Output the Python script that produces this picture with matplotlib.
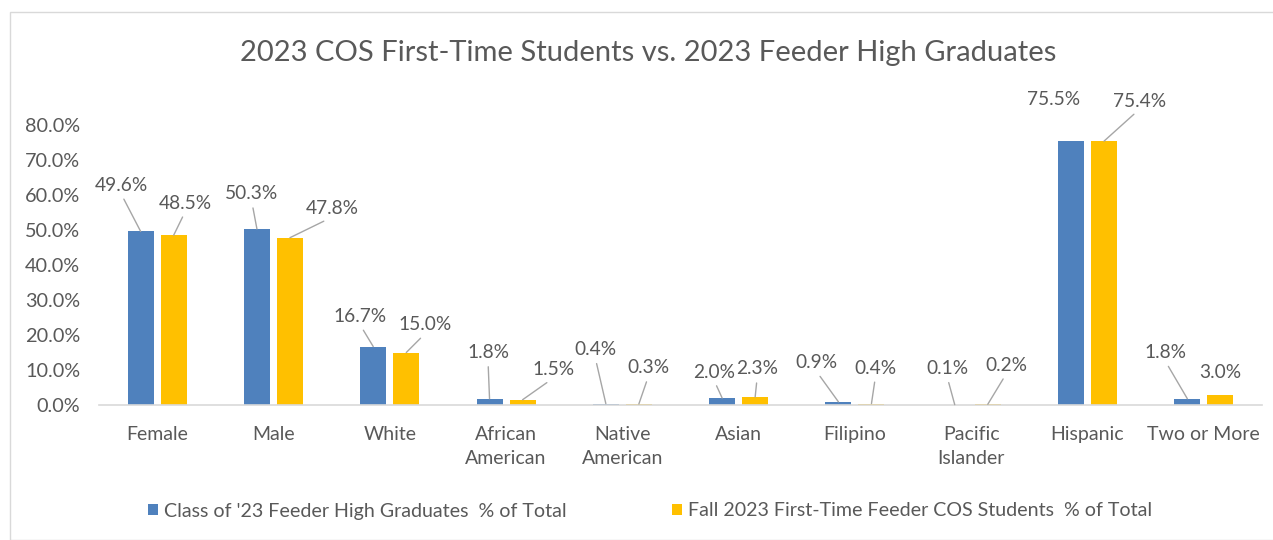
import matplotlib
matplotlib.use("Agg")
import matplotlib.pyplot as plt
from matplotlib.patches import Rectangle
import numpy as np

categories = ["Female", "Male", "White", "African\nAmerican", "Native\nAmerican",
              "Asian", "Filipino", "Pacific\nIslander", "Hispanic", "Two or More"]
grads = [49.6, 50.3, 16.7, 1.8, 0.4, 2.0, 0.9, 0.1, 75.5, 1.8]
cos_students = [48.5, 47.8, 15.0, 1.5, 0.3, 2.3, 0.4, 0.2, 75.4, 3.0]
series_names = ["Class of '23 Feeder High Graduates  % of Total",
                "Fall 2023 First-Time Feeder COS Students  % of Total"]
title = "2023 COS First-Time Students vs. 2023 Feeder High Graduates"
yticks = [0, 10, 20, 30, 40, 50, 60, 70, 80]

# label offsets (pixels) from bar top, and whether a leader line is drawn
off_grads = [(-19.5, 46), (-5, 35), (-13, 30), (-1.5, 46), (-10.5, 54),
             (-8, 26), (-22, 39), (-7.5, 36), (-17, 41), (-22, 46)]
lead_grads = [True, True, True, True, True, True, True, True, False, True]
off_cos = [(11.5, 32), (42, 29), (19, 27.5), (30.5, 30), (9.5, 36),
           (2, 28), (4, 35.5), (18.5, 39), (35, 40), (0, 21.5)]
lead_cos = [True, True, True, True, True, True, True, True, True, False]

BLUE = "#4F81BD"
YELLOW = "#FFC000"
TEXT = "#595959"
FONT = ["Lato", "DejaVu Sans"]
plt.rcParams['font.family'] = FONT

W, H = 1273, 540
fig = plt.figure(figsize=(W / 100, H / 100), dpi=100)
fig.patch.set_facecolor("white")
fig.patches.append(Rectangle((10 / W, 0), 1.0, 1 - 12 / H, transform=fig.transFigure,
                             fill=False, edgecolor="#D9D9D9", linewidth=1.0))

ax = fig.add_axes([99 / W, 1 - 405 / H, (1262 - 99) / W, (405 - 125) / H])
x = np.arange(len(categories))
bw = 0.224
shift = 0.142
b1 = ax.bar(x - shift, grads, bw, color=BLUE, label=series_names[0])
b2 = ax.bar(x + shift, cos_students, bw, color=YELLOW, label=series_names[1])

ax.set_xlim(-0.5, len(categories) - 0.5)
ax.set_ylim(0, 80)
ax.set_yticks(yticks)
ax.set_yticklabels([f"{t:.1f}%" for t in yticks])
ax.set_xticks(x)
ax.set_xticklabels(categories, linespacing=1.5)
for s in ["top", "right", "left"]:
    ax.spines[s].set_visible(False)
ax.spines["bottom"].set_color("#D9D9D9")
ax.spines["bottom"].set_linewidth(1.2)
ax.tick_params(axis="y", length=0, colors=TEXT, labelsize=14.3, pad=13.5)
ax.tick_params(axis="x", length=0, colors=TEXT, labelsize=14, pad=15)


def label(bars, vals, offs, leads):
    for rect, v, (dx, dy), ld in zip(bars, vals, offs, leads):
        xc = rect.get_x() + rect.get_width() / 2
        ap = None
        if ld:
            ap = dict(arrowstyle="-", color="#A6A6A6", lw=1.0,
                      shrinkA=2, shrinkB=0, relpos=(0.5, 0.0))
        ax.annotate(f"{v:.1f}%", xy=(xc, v), xytext=(dx, dy),
                    textcoords="offset pixels", ha="center", va="center",
                    fontsize=13.8, color=TEXT, arrowprops=ap)


label(b1, grads, off_grads, lead_grads)
label(b2, cos_students, off_cos, lead_cos)

fig.text(648 / W, 1 - 53 / H, title, ha="center", va="center", fontsize=21, color=TEXT)

fig.legend(handles=[b1, b2], loc="center", bbox_to_anchor=(650 / W, 1 - 511 / H),
           ncol=2, frameon=False, fontsize=14.1, labelcolor=TEXT,
           handlelength=0.5, handleheight=0.5, handletextpad=0.3, columnspacing=5.4)

fig.savefig("out.png", dpi=100)
